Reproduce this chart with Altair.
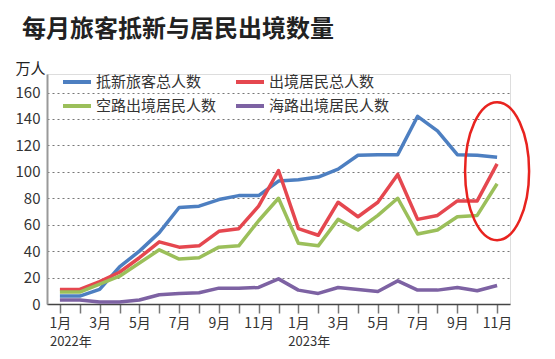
import altair as alt
import pandas as pd

FONT = "Noto Sans CJK SC"

months = ["2022-01", "2022-02", "2022-03", "2022-04", "2022-05", "2022-06",
          "2022-07", "2022-08", "2022-09", "2022-10", "2022-11", "2022-12",
          "2023-01", "2023-02", "2023-03", "2023-04", "2023-05", "2023-06",
          "2023-07", "2023-08", "2023-09", "2023-10", "2023-11"]

series = ["抵新旅客总人数", "出境居民总人数", "空路出境居民人数", "海路出境居民人数"]
colors = ["#4d7fc1", "#e5474f", "#9bbf5a", "#7d62a3"]

visitors = [6, 6, 11, 28, 40, 54, 73, 74, 79, 82, 82, 93,
            94, 96, 102, 112.5, 113, 113, 142, 131, 113, 112.5, 111]
residents_total = [11, 11, 17, 24, 35, 47, 43, 44, 55, 57, 74, 101,
                   57, 52, 77, 66, 77, 98, 64, 67, 78, 78, 106]
residents_air = [9, 9, 15, 21, 31, 41, 34, 35, 43, 44, 63, 80,
                 46, 44, 64, 56, 67, 80, 53, 56, 66, 67, 91]
residents_sea = [3, 3, 1.5, 1.5, 3, 7, 8, 8.5, 12, 12, 12.5, 19,
                 10.5, 8, 12.5, 11, 9.5, 17.5, 10.5, 10.5, 12.5, 10, 14]

y_ticks = [0, 20, 40, 60, 80, 100, 120, 140, 160]

year_keys = ["2022-01", "2023-01"]
year_labels = ["2022年", "2023年"]

highlight_key = ["2023-11"]
highlight_value = [100.5]

rows = []
for name, vals in zip(series, [visitors, residents_total, residents_air, residents_sea]):
    for m, v in zip(months, vals):
        rows.append({"month": m, "value": v, "series": name})
df = pd.DataFrame(rows)

years_df = pd.DataFrame({"month": year_keys, "label": year_labels})
hl_df = pd.DataFrame({"month": highlight_key, "value": highlight_value})

x_scale = alt.Scale(type="point", padding=0.65, domain=months)
y_scale = alt.Scale(domain=[0, 174], nice=False)

x_axis = alt.Axis(
    title=None,
    labelExpr="toNumber(slice(datum.value, 5)) % 2 == 1 ? toNumber(slice(datum.value, 5)) + '月' : ''",
    labelAngle=0, labelOverlap=False, labelFontSize=14, labelColor="#333",
    labelPadding=3, labelFont=FONT,
    tickSize=9, tickColor="#777", tickWidth=1.5,
    domainColor="#444", domainWidth=1.5, grid=False,
)
y_axis = alt.Axis(
    values=y_ticks, tickCount=len(y_ticks),
    labelOverlap=False,
    grid=True, gridDash=[2, 3], gridColor="#777", gridWidth=1,
    domainColor="#999", domainWidth=2, ticks=False,
    labelFontSize=15, labelColor="#333", labelPadding=7, labelFont=FONT,
    title="万人", titleAngle=0, titleX=-32, titleY=-6, titleAlign="left",
    titleBaseline="middle", titleFontSize=15, titleFontWeight="normal",
    titleColor="#222", titleFont=FONT,
)

lines = alt.Chart(df).mark_line(strokeWidth=3.5, strokeJoin="round").encode(
    x=alt.X("month:O", scale=x_scale, axis=x_axis),
    y=alt.Y("value:Q", scale=y_scale, axis=y_axis),
    color=alt.Color(
        "series:N", sort=series,
        scale=alt.Scale(domain=series, range=colors),
        legend=alt.Legend(
            title=None, orient="none", legendX=14, legendY=-8, columns=2,
            direction="horizontal",
            symbolType="stroke", symbolSize=784, symbolStrokeWidth=4,
            labelFontSize=15, labelColor="#333", labelFont=FONT,
            labelOffset=3, columnPadding=11, rowPadding=0,
        ),
    ),
)

years = alt.Chart(years_df).mark_text(
    align="left", baseline="middle", dx=-10, fontSize=13, color="#333", font=FONT
).encode(
    x=alt.X("month:O", scale=x_scale, axis=x_axis),
    y=alt.value(268),
    text="label:N",
)

ellipse = alt.Chart(hl_df).mark_point(
    shape="M0,-1 A0.464,1 0 1,1 0,1 A0.464,1 0 1,1 0,-1 Z",
    size=19044, filled=False, stroke="#e8231f", strokeWidth=2.5, opacity=1,
).encode(
    x=alt.X("month:O", scale=x_scale, axis=x_axis),
    y=alt.Y("value:Q", scale=y_scale, axis=y_axis),
)

chart = alt.layer(lines, years, ellipse).properties(
    width=463, height=230,
    autosize=alt.AutoSizeParams(type="none"),
    padding={"left": 39, "top": 66, "right": 37, "bottom": 47},
    title=alt.TitleParams(
        "每月旅客抵新与居民出境数量", anchor="start", frame="group", dx=-25,
        fontSize=24, fontWeight="bold", color="#222", font=FONT, offset=19,
    ),
).configure_view(stroke=None).configure(background="white")

chart.save("out.html", embed_options={"renderer": "svg", "actions": False})
